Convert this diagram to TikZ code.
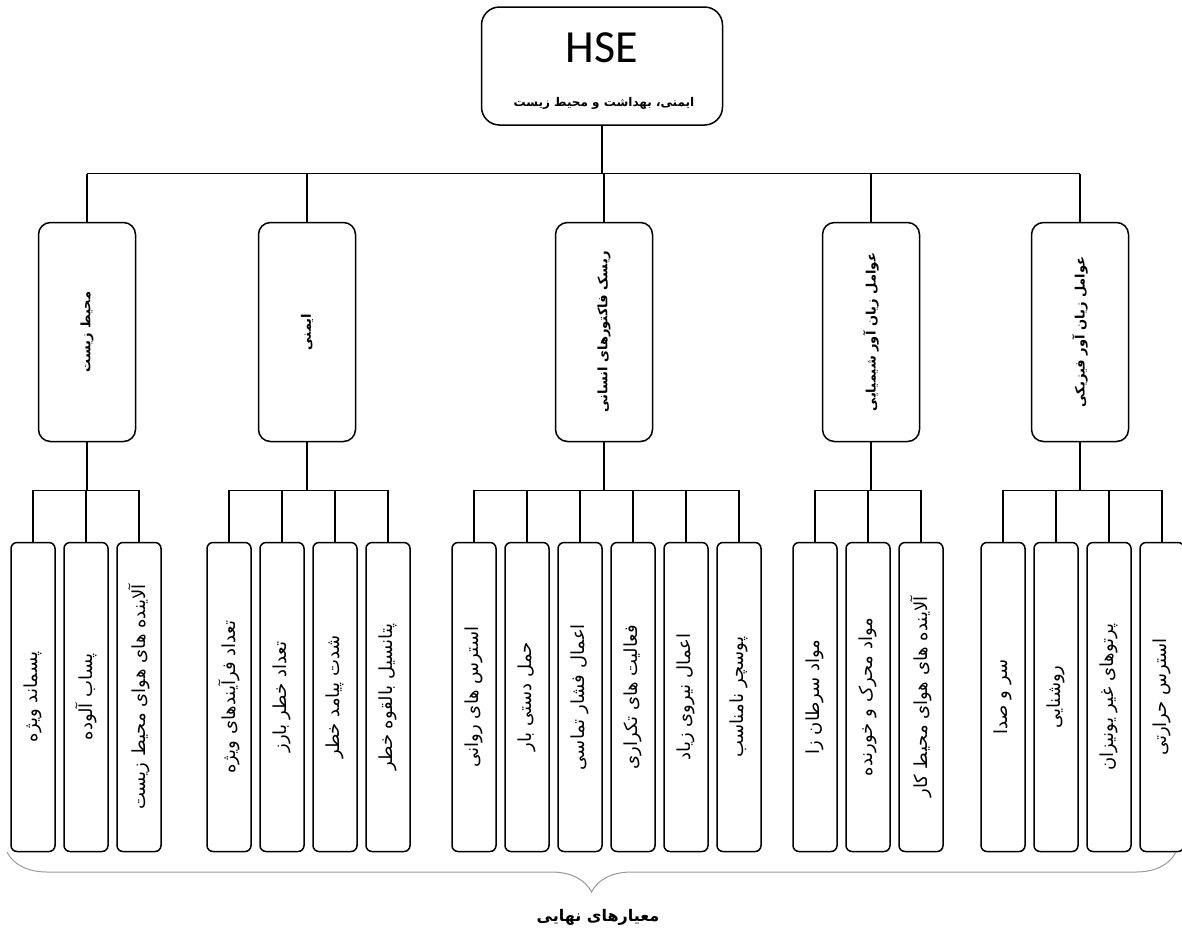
\documentclass[tikz,border=0pt]{standalone}
\usepackage{fontspec}
\setmainfont{Carlito}
\newfontfamily\arabicfont[Script=Arabic]{DejaVu Sans}
\TeXXeTstate=1
\newcommand\fatext[1]{{\arabicfont\beginR #1\endR}}
\usetikzlibrary{decorations.pathreplacing}
\begin{document}
\begin{tikzpicture}[x=1pt,y=-1pt,
    topbox/.style={draw,line width=1.5pt,rounded corners=18pt,minimum width=241pt,minimum height=118pt,inner sep=0pt},
    catbox/.style={draw,line width=1.5pt,rounded corners=12pt,minimum width=97pt,minimum height=219pt,inner sep=0pt,font=\fontsize{13}{15}\selectfont\bfseries},
    leafbox/.style={draw,line width=1.5pt,rounded corners=6pt,minimum width=44pt,minimum height=309pt,inner sep=0pt,font=\fontsize{18}{20}\selectfont},
    link/.style={line width=1.4pt}]
    \useasboundingbox (0,0) rectangle (1182,943);
    %% Root
    \node[topbox] (hse) at (602,66) {};
    \node[font=\fontsize{46}{50}\selectfont] (hsetitle) at (602,48) {HSE};
    \node[font=\fontsize{12}{14}\selectfont\bfseries] (hsesub) at (604,103) {\fatext{ایمنی، بهداشت و محیط زیست}};
    %% Criteria
    \node[catbox] (env) at (87,332) {\rotatebox{90}{\fatext{محیط زیست}}};
    \node[catbox] (safe) at (307,332) {\rotatebox{90}{\fatext{ایمنی}}};
    \node[catbox] (human) at (604,332) {\rotatebox{90}{\fatext{ریسک فاکتورهای انسانی}}};
    \node[catbox] (chem) at (871,332) {\rotatebox{90}{\fatext{عوامل زیان آور شیمیایی}}};
    \node[catbox] (phys) at (1080,332) {\rotatebox{90}{\fatext{عوامل زیان آور فیزیکی}}};
    %% Sub-criteria
    \foreach \x/\txt [count=\i] in {33/{پسماند ویژه},86/{پساب آلوده},139/{آلاینده های هوای محیط زیست}}
        \node[leafbox] (env\i) at (\x,697) {\rotatebox{90}{\fatext{\txt}}};
    \foreach \x/\txt [count=\i] in {229/{تعداد فرآیندهای ویژه},282/{تعداد خطر بارز},335/{شدت پیامد خطر},388/{پتانسیل بالقوه خطر}}
        \node[leafbox] (safe\i) at (\x,697) {\rotatebox{90}{\fatext{\txt}}};
    \foreach \x/\txt [count=\i] in {474/{استرس های روانی},527/{حمل دستی بار},580/{اعمال فشار تماسی},633/{فعالیت های تکراری},686/{اعمال نیروی زیاد},739/{پوسچر نامناسب}}
        \node[leafbox] (human\i) at (\x,697) {\rotatebox{90}{\fatext{\txt}}};
    \foreach \x/\txt [count=\i] in {815/{مواد سرطان زا},868/{مواد محرک و خورنده},921/{آلاینده های هوای محیط کار}}
        \node[leafbox] (chem\i) at (\x,697) {\rotatebox{90}{\fatext{\txt}}};
    \foreach \x/\txt [count=\i] in {1003/{سر و صدا},1056/{روشنایی},1109/{پرتوهای غیر یونیزان},1162/{استرس حرارتی}}
        \node[leafbox] (phys\i) at (\x,697) {\rotatebox{90}{\fatext{\txt}}};
    %% Connectors
    \coordinate (topbus) at ([yshift=-48pt]hse.south);
    \draw[link] (hse.south) -- (topbus);
    \draw[link] (topbus -| env.north) -- (topbus -| phys.north);
    \foreach \c in {env,safe,human,chem,phys}
        \draw[link] (topbus -| \c.north) -- (\c.north);
    \foreach \c/\n in {env/3,safe/4,human/6,chem/3,phys/4} {
        \coordinate (\c bus) at ([yshift=-48pt]\c.south);
        \draw[link] (\c.south) -- (\c bus);
        \draw[link] (\c bus -| \c1.north) -- (\c bus -| \c\n.north);
        \foreach \i in {1,...,\n}
            \draw[link] (\c bus -| \c\i.north) -- (\c\i.north);
    }
    %% Brace
    \draw[gray!80,line width=1pt,decorate,decoration={brace,mirror,amplitude=40pt}] (7,852) -- (1176,852);
    \node[font=\fontsize{16}{18}\selectfont\bfseries] (final) at (598,917) {\fatext{معیارهای نهایی}};
\end{tikzpicture}
\end{document}
